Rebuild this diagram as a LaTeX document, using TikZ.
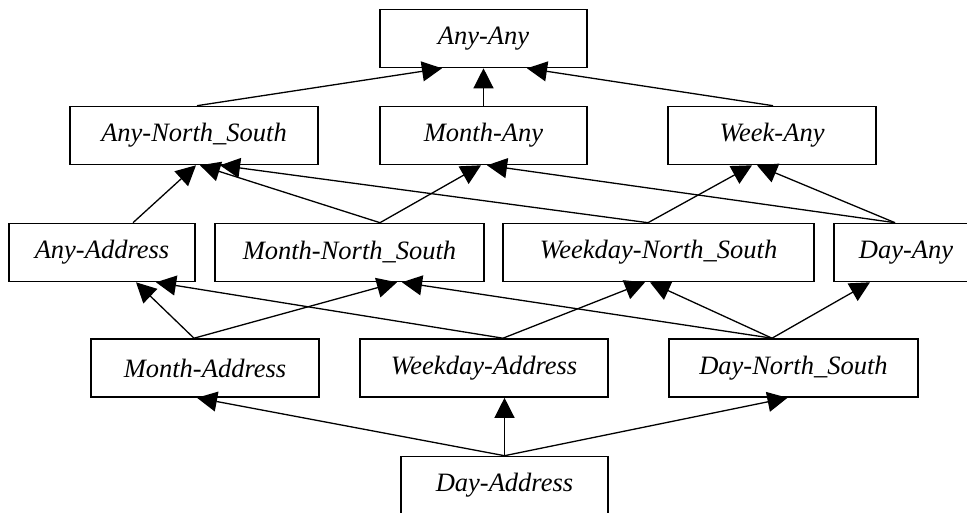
\documentclass[tikz,border=0pt]{standalone}
\usepackage{fontspec}
\setmainfont{Liberation Serif}
\usetikzlibrary{arrows.meta}

\begin{document}
\begin{tikzpicture}[x=1pt,y=-1pt,font=\fontsize{26.5}{30}\selectfont\itshape,>={Triangle[length=20pt,width=20pt]},
  lvl/.style={draw,line width=1.6pt,fill=white,minimum height=58pt,inner sep=0pt},
  edge/.style={->,line width=1.3pt}]
\clip (0,0) rectangle (967,512);

% ---------- top ----------
\node[lvl,minimum width=207pt] (anyany) at (483.5,38.5) {Any-Any};

% ---------- second row ----------
\node[lvl,minimum width=248pt] (anyns) at (194,135.5) {Any-North\_South};
\node[lvl,minimum width=207pt] (monthany) at (483.5,135.5) {Month-Any};
\node[lvl,minimum width=208pt] (weekany) at (772,135.5) {Week-Any};

% ---------- third row ----------
\node[lvl,minimum width=186pt] (anyaddr) at (102,252.5) {Any-Address};
\node[lvl,minimum width=269pt] (monthns) at (349.5,252.5) {Month-North\_South};
\node[lvl,minimum width=311pt] (weekdayns) at (658.5,252.5) {Weekday-North\_South};
\node[lvl,minimum width=144pt] (dayany) at (906,252.5) {Day-Any};

% ---------- fourth row ----------
\node[lvl,minimum width=228pt] (monthaddr) at (205,368) {Month-Address};
\node[lvl,minimum width=248pt] (weekdayaddr) at (484,368) {Weekday-Address};
\node[lvl,minimum width=249pt] (dayns) at (793.5,368) {Day-North\_South};

% ---------- bottom ----------
\node[lvl,minimum width=207pt] (dayaddr) at (504.5,485.5) {Day-Address};

% ---------- edges into the top ----------
\draw[edge] ([xshift=3pt]anyns.north) -- ([xshift=-41.5pt]anyany.south);
\draw[edge] (monthany.north) -- (anyany.south);
\draw[edge] ([xshift=1pt]weekany.north) -- ([xshift=43.5pt]anyany.south);

% ---------- third row to second row ----------
\draw[edge] ([xshift=31pt]anyaddr.north) -- ([xshift=2pt]anyns.south);
\draw[edge] ([xshift=30.5pt]monthns.north) -- ([xshift=6pt]anyns.south);
\draw[edge] ([xshift=30.5pt]monthns.north) -- ([xshift=-2.5pt]monthany.south);
\draw[edge] ([xshift=-10.5pt]weekdayns.north) -- ([xshift=26pt]anyns.south);
\draw[edge] ([xshift=-10.5pt]weekdayns.north) -- ([xshift=-20pt]weekany.south);
\draw[edge] ([xshift=-11pt]dayany.north) -- ([xshift=3.5pt]monthany.south);
\draw[edge] ([xshift=-11pt]dayany.north) -- ([xshift=-15pt]weekany.south);

% ---------- fourth row to third row ----------
\draw[edge] ([xshift=-11pt]monthaddr.north) -- ([xshift=34pt]anyaddr.south);
\draw[edge] ([xshift=-11pt]monthaddr.north) -- ([xshift=47.5pt]monthns.south);
\draw[edge] ([xshift=19pt]weekdayaddr.north) -- ([xshift=54pt]anyaddr.south);
\draw[edge] ([xshift=19pt]weekdayaddr.north) -- ([xshift=-13.5pt]weekdayns.south);
\draw[edge] ([xshift=-21.5pt]dayns.north) -- ([xshift=52.5pt]monthns.south);
\draw[edge] ([xshift=-21.5pt]dayns.north) -- ([xshift=-8.5pt]weekdayns.south);
\draw[edge] ([xshift=-21.5pt]dayns.north) -- ([xshift=-36pt]dayany.south);

% ---------- bottom to fourth row ----------
\draw[edge] (dayaddr.north) -- ([xshift=-8pt]monthaddr.south);
\draw[edge] (dayaddr.north) -- ([xshift=20.5pt]weekdayaddr.south);
\draw[edge] (dayaddr.north) -- ([xshift=-6pt]dayns.south);
\end{tikzpicture}
\end{document}
